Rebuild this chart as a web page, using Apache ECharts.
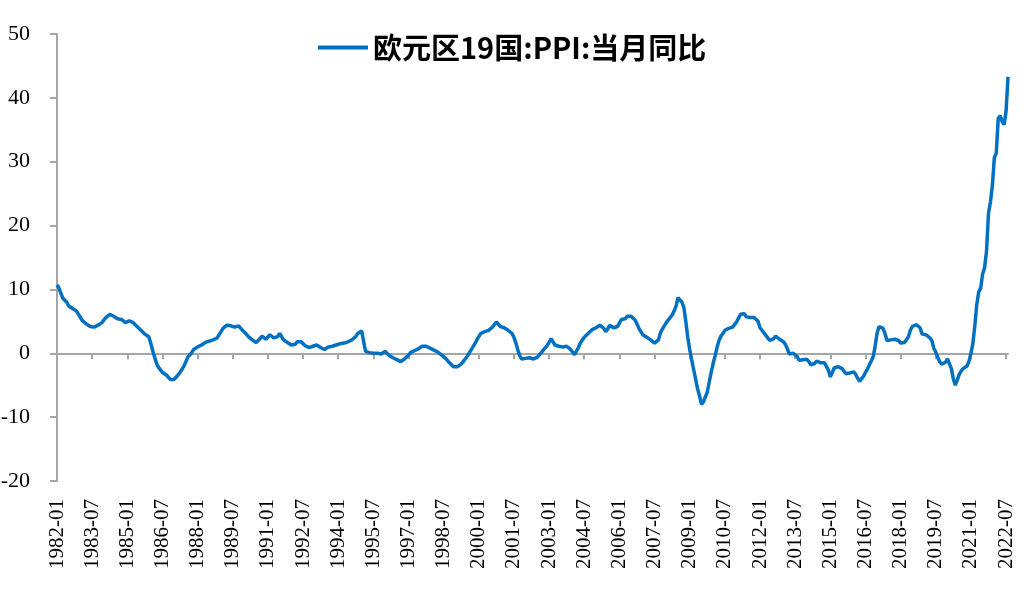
<!DOCTYPE html>
<html><head><meta charset="utf-8">
<script src="https://cdn.jsdelivr.net/npm/echarts@6/dist/echarts.min.js"></script>
<style>html,body{margin:0;padding:0;background:#fff}#c{width:1030px;height:598px}</style>
</head><body><div id="c"></div>
<script>
// Month categories 1982-01 .. 2022-08
const categories = [];
for (let y = 1982; y <= 2022; y++) {
  for (let m = 1; m <= 12; m++) {
    if (y === 2022 && m > 8) break;
    categories.push(y + '-' + String(m).padStart(2, '0'));
  }
}
const seriesName = '欧元区19国:PPI:当月同比';
const ppiYoY = [
  10.7, 10.2, 9.4, 8.6, 8.3, 8.0, 7.4, 7.2, 7.0, 6.8, 6.6, 6.3,      // 1982
  5.6, 5.1, 4.8, 4.6, 4.4, 4.2, 4.0, 4.1, 4.3, 4.4, 4.5, 4.8,        // 1983
  5.2, 5.6, 5.9, 6.1, 5.9, 5.8, 5.5, 5.4, 5.2, 5.3, 5.0, 4.8,        // 1984
  4.9, 5.1, 5.0, 4.8, 4.5, 4.2, 3.9, 3.6, 3.3, 3.0, 2.7, 2.6,        // 1985
  1.6, 0.4, -0.6, -1.6, -2.2, -2.6, -3.0, -3.1, -3.4, -3.7, -4.1, -4.2, // 1986
  -4.1, -3.8, -3.4, -3.0, -2.5, -2.0, -1.3, -0.6, -0.3, 0.1, 0.6, 0.9,  // 1987
  1.0, 1.1, 1.3, 1.5, 1.7, 1.8, 1.9, 2.0, 2.1, 2.2, 2.4, 2.9,        // 1988
  3.4, 3.9, 4.2, 4.4, 4.4, 4.3, 4.1, 4.1, 4.2, 4.3, 4.0, 3.6,        // 1989
  3.4, 3.0, 2.6, 2.3, 2.1, 1.9, 1.7, 1.9, 2.3, 2.7, 2.5, 2.2,        // 1990
  2.5, 2.9, 2.6, 2.4, 2.3, 2.6, 3.1, 2.6, 2.1, 1.8, 1.7, 1.6,        // 1991
  1.3, 1.0, 1.4, 1.8, 1.9, 1.8, 1.5, 1.2, 1.0, 0.9, 1.0, 1.1,        // 1992
  1.2, 1.3, 1.1, 0.9, 0.7, 0.6, 0.8, 1.0, 1.1, 1.1, 1.2, 1.3,        // 1993
  1.4, 1.5, 1.5, 1.6, 1.7, 1.8, 1.9, 2.1, 2.2, 2.6, 3.1, 3.3,        // 1994
  3.5, 3.7, 0.3, 0.2, 0.1, 0.2, 0.0, -0.1, 0.0, -0.1, -0.1, 0.0,     // 1995
  0.3, 0.1, -0.3, -0.5, -0.7, -0.9, -1.0, -1.1, -1.3, -1.0, -0.9, -0.6, // 1996
  -0.3, 0.1, 0.2, 0.4, 0.5, 0.7, 0.9, 1.1, 1.25, 1.1, 1.0, 0.8,      // 1997
  0.7, 0.5, 0.3, 0.2, 0.0, -0.3, -0.5, -0.8, -1.1, -1.5, -1.8, -2.1, // 1998
  -2.2, -2.1, -2.0, -1.7, -1.3, -0.9, -0.5, 0.0, 0.5, 1.0, 1.5, 2.1, // 1999
  2.6, 3.1, 3.3, 3.4, 3.4, 3.6, 3.8, 4.1, 4.4, 4.9, 4.7, 4.2,        // 2000
  4.1, 4.0, 3.9, 3.6, 3.4, 3.1, 2.5, 1.6, 0.5, -0.4, -0.9, -0.8,     // 2001
  -0.8, -0.8, -0.7, -0.8, -0.9, -0.8, -0.6, -0.3, 0.1, 0.5, 0.8, 1.2, // 2002
  1.7, 2.3, 2.1, 1.3, 1.0, 1.1, 1.0, 1.0, 0.9, 1.1, 1.0, 0.6,        // 2003
  0.2, -0.2, -0.1, 0.9, 1.6, 2.1, 2.5, 2.8, 3.1, 3.4, 3.7, 3.9,      // 2004
  4.0, 4.1, 4.4, 4.2, 3.9, 3.4, 3.8, 4.4, 4.2, 4.0, 4.3, 4.2,        // 2005
  4.7, 5.3, 5.2, 5.4, 5.8, 6.0, 5.8, 5.7, 5.2, 4.6, 3.9, 3.4,        // 2006
  2.9, 2.7, 2.5, 2.3, 2.1, 1.9, 1.6, 1.3, 2.1, 3.2, 3.8, 4.3,        // 2007
  4.8, 5.2, 5.6, 6.0, 6.6, 7.4, 8.7, 8.5, 8.0, 7.2, 5.0, 2.5,        // 2008
  0.6, -1.0, -2.5, -4.0, -5.5, -6.6, -8.0, -7.6, -7.3, -6.1, -4.5, -3.0, // 2009
  -1.6, -0.4, 0.9, 2.0, 2.7, 3.1, 3.6, 3.8, 3.9, 4.2, 4.1, 4.4,      // 2010
  4.9, 5.5, 6.1, 6.4, 6.2, 5.7, 5.8, 5.6, 5.5, 5.6, 5.4, 5.0,        // 2011
  4.0, 3.6, 3.3, 2.8, 2.4, 2.0, 1.8, 2.3, 2.7, 2.5, 2.2, 2.0,        // 2012
  1.8, 1.4, 0.7, -0.1, -0.3, 0.0, 0.0, -0.5, -1.1, -1.2, -1.0, -0.9, // 2013
  -0.95, -1.3, -1.8, -2.0, -1.6, -1.2, -1.3, -1.5, -1.5, -1.5, -1.6, -2.6, // 2014
  -3.7, -3.0, -2.3, -2.1, -2.1, -2.2, -2.4, -2.6, -3.2, -3.4, -3.1, -3.0, // 2015
  -2.9, -3.3, -3.9, -4.4, -4.1, -3.6, -3.0, -2.5, -1.8, -1.2, -0.5, 1.2, // 2016
  3.2, 4.2, 4.0, 3.9, 3.1, 2.0, 1.8, 2.1, 2.3, 2.2, 2.3, 2.0,        // 2017
  1.6, 1.5, 1.7, 1.8, 2.6, 3.6, 4.2, 4.3, 4.5, 4.8, 4.0, 3.0,        // 2018
  2.9, 2.9, 2.7, 2.4, 2.0, 0.8, 0.2, -0.6, -1.3, -1.7, -2.0, -1.4,   // 2019
  -0.9, -1.2, -2.4, -4.0, -5.0, -4.2, -3.3, -2.8, -2.4, -2.2, -2.0, -1.3, // 2020
  0.0, 1.5, 4.3, 7.6, 9.6, 10.2, 12.4, 13.4, 16.0, 21.9, 23.7, 26.3, // 2021
  30.6, 31.4, 36.8, 37.2, 36.3, 35.8, 37.9, 43.3                     // 2022
];
const yTicks = { min: -20, max: 50, interval: 10 };

const chart = echarts.init(document.getElementById('c'), null, { renderer: 'canvas' });
const axisGray = '#A6A6A6';
chart.setOption({
  animation: false,
  backgroundColor: '#fff',
  legend: {
    top: 28, left: 313,
    icon: 'rect', itemWidth: 50, itemHeight: 4, itemGap: 8,
    textStyle: { fontFamily: 'Noto Sans CJK SC', fontWeight: 'bold', fontSize: 29, color: '#000' },
    data: [seriesName]
  },
  grid: { left: 57, right: 22, top: 34, bottom: 117, containLabel: false, outerBoundsMode: 'none' },
  xAxis: [{
    // bottom axis: labels only
    type: 'category', data: categories, boundaryGap: false, position: 'bottom',
    axisLine: { show: false, onZero: false },
    axisTick: { show: false },
    axisLabel: {
      interval: 17, rotate: 90, margin: 18,
      fontFamily: 'Liberation Serif', fontSize: 21, color: '#000'
    },
    splitLine: { show: false }
  }, {
    // zero line with tick marks
    type: 'category', data: categories, boundaryGap: false, position: 'top',
    axisLine: { show: true, onZero: true, lineStyle: { color: axisGray, width: 2 } },
    axisTick: { show: true, inside: true, interval: 17, length: 6, lineStyle: { color: axisGray, width: 2 } },
    axisLabel: { show: false },
    splitLine: { show: false }
  }],
  yAxis: {
    type: 'value', min: yTicks.min, max: yTicks.max, interval: yTicks.interval,
    axisLine: { show: true, lineStyle: { color: axisGray, width: 2 } },
    axisTick: { show: true, length: 7, lineStyle: { color: axisGray, width: 2 } },
    axisLabel: { margin: 27, fontFamily: 'Liberation Serif', fontSize: 22, color: '#000' },
    splitLine: { show: false }
  },
  series: [{
    name: seriesName, type: 'line', data: ppiYoY, xAxisIndex: 0,
    symbol: 'none', smooth: false,
    lineStyle: { color: '#0070C0', width: 3.5 },
    itemStyle: { color: '#0070C0' }
  }]
});
</script></body></html>
